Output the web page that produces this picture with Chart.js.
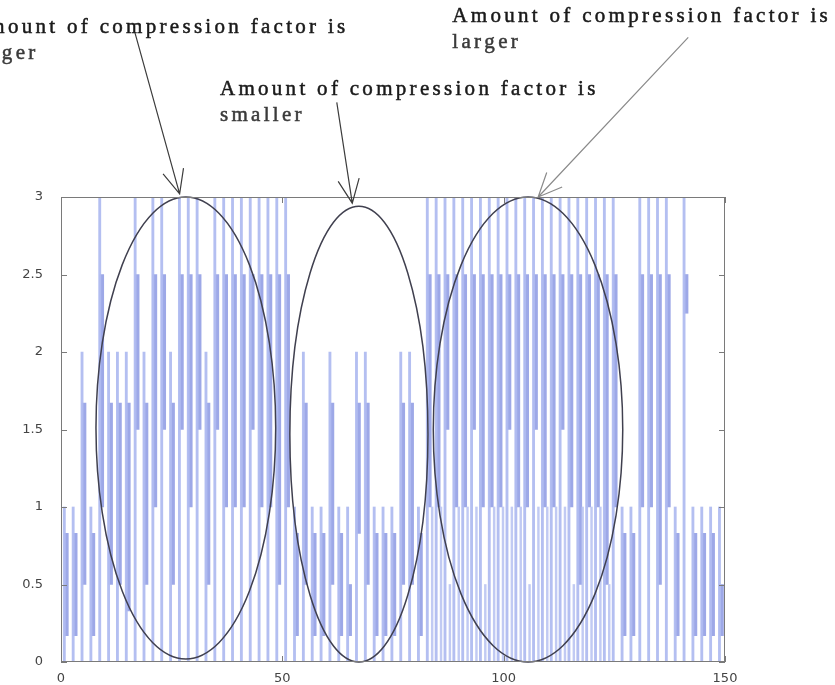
<!DOCTYPE html>
<html>
<head>
<meta charset="utf-8">
<script src="https://cdn.jsdelivr.net/npm/chart.js@4.4.1/dist/chart.umd.min.js"></script>
<style>
  html, body { margin: 0; padding: 0; background: #fff; }
  #wrap { width: 835px; height: 685px; }
</style>
</head>
<body>
<div id="wrap"><canvas id="signalChart" width="835" height="685"></canvas></div>
<script>
// top of each spike (one spike about every 2 samples)
const peakVals = [
  1, 1, 2, 1, 3, 2, 2, 2, 3, 2, 3, 3, 2, 3, 3, 3, 2, 3, 3,
  3, 3, 3, 3, 3, 3, 3, 1, 2, 1, 1, 2, 1, 1, 2, 2, 1, 1, 1,
  2, 2, 1, 3, 3, 3, 3, 3, 3, 3, 3, 3, 3, 3, 3, 3, 3, 3, 3,
  3, 3, 3, 3, 3, 3, 1, 1, 3, 3, 3, 3, 1, 3, 1, 1, 1, 1
];
// darker (overlapping) part of each spike
const bandLow = [
  0.17, 0.17, 0.5, 0.17, 1.0, 0.5, 0.5, 0.33, 1.5, 0.5, 1.0, 1.5, 0.5, 1.5, 1.0, 1.5, 0.5, 1.5, 1.0,
  1.0, 1.0, 1.5, 1.0, 1.0, 0.5, 1.0, 0.17, 0.5, 0.17, 0.17, 0.5, 0.17, 0.17, 0.83, 0.5, 0.17, 0.17, 0.17,
  0.5, 0.5, 0.17, 1.0, 1.0, 1.5, 1.0, 1.0, 1.5, 1.0, 1.0, 1.0, 1.5, 1.0, 1.0, 1.5, 1.0, 1.0, 1.5,
  1.0, 0.5, 1.0, 1.0, 0.5, 1.0, 0.17, 0.17, 1.0, 1.0, 0.5, 1.0, 0.17, 2.25, 0.17, 0.17, 0.17, 0.17
];
const bandHigh = [
  0.83, 0.83, 1.67, 0.83, 2.5, 1.67, 1.67, 1.67, 2.5, 1.67, 2.5, 2.5, 1.67, 2.5, 2.5, 2.5, 1.67, 2.5, 2.5,
  2.5, 2.5, 2.5, 2.5, 2.5, 2.5, 2.5, 0.83, 1.67, 0.83, 0.83, 1.67, 0.83, 0.5, 1.67, 1.67, 0.83, 0.83, 0.83,
  1.67, 1.67, 0.83, 2.5, 2.5, 2.5, 2.5, 2.5, 2.5, 2.5, 2.5, 2.5, 2.5, 2.5, 2.5, 2.5, 2.5, 2.5, 2.5,
  2.5, 2.5, 2.5, 2.5, 2.5, 2.5, 0.83, 0.83, 2.5, 2.5, 2.5, 2.5, 0.83, 2.5, 0.83, 0.83, 0.83, 0.5
];
// low in-between samples (only where the signal is busiest)
const minorVals = [
  0, 0, 0, 0, 0, 0, 0, 0, 0, 0, 0, 0, 0, 0, 0, 0, 0, 0, 0,
  0, 0, 0, 0, 0, 0, 0, 0, 0, 0, 0, 0, 0, 0, 0, 0, 0, 0, 0,
  0, 0, 0, 1, 1, 0.5, 1, 1, 1, 0.5, 1, 1, 1, 1, 0.5, 1, 1, 1, 1,
  0.5, 1, 1, 1, 0.5, 0, 0, 0, 0, 0, 0, 0, 0, 0, 0, 0, 0, 0
];
const xTicks = [0, 50, 100, 150];
const yTicks = [0, 0.5, 1, 1.5, 2, 2.5, 3];

// annotation shapes, in axis units
const ovals = [
  { cx: 28.2, cy: 1.51, rx: 20.3, ry: 1.49 },
  { cx: 67.3, cy: 1.47, rx: 15.6, ry: 1.47 },
  { cx: 105.5, cy: 1.5, rx: 21.4, ry: 1.5 }
];
const notes = [
  { lines: ['Amount of compression factor is', 'larger'], x: -20.6, y: 4.06 },
  { lines: ['Amount of compression factor is', 'smaller'], x: 35.9, y: 3.66 },
  { lines: ['Amount of compression factor is', 'larger'], x: 88.4, y: 4.13 }
];
const arrows = [
  { from: [16.7, 4.06], to: [26.8, 3.02], color: '#3c3c3c' },
  { from: [62.3, 3.61], to: [65.8, 2.96], color: '#3c3c3c' },
  { from: [141.7, 4.03], to: [107.8, 3.0], color: '#8a8a8a' }
];

const spikeX = peakVals.map((v, i) => 0.75 + 2 * i);
const strokeData = peakVals.map((p, i) => ({ x: spikeX[i], y: [0, p] }));
// the overlapping part sits just right of the thin stroke
const bandData = bandLow.map((lo, i) => ({ x: spikeX[i] + 0.45, y: [lo, bandHigh[i]] }));
const minorData = minorVals
  .map((m, i) => ({ x: spikeX[i] + 1.1, y: [0, m] }))
  .filter(d => d.y[1] > 0);

function spacedText(ctx, str, x0, y0, gap) {
  let cx = x0;
  for (const ch of str) {
    ctx.fillText(ch, cx, y0);
    ctx.strokeText(ch, cx, y0);
    cx += ctx.measureText(ch).width + gap;
  }
}

function drawArrow(ctx, x1, y1, x2, y2) {
  const ang = Math.atan2(y2 - y1, x2 - x1);
  const len = 26, spread = 0.42;
  ctx.beginPath();
  ctx.moveTo(x1, y1);
  ctx.lineTo(x2, y2);
  ctx.moveTo(x2 - len * Math.cos(ang - spread), y2 - len * Math.sin(ang - spread));
  ctx.lineTo(x2, y2);
  ctx.lineTo(x2 - len * Math.cos(ang + spread), y2 - len * Math.sin(ang + spread));
  ctx.stroke();
}

const annotate = {
  id: 'annotate',
  afterDatasetsDraw(chart) {
    const { ctx, chartArea: a, scales: { x, y } } = chart;
    ctx.save();
    // ovals
    ctx.strokeStyle = '#40404f';
    ctx.lineWidth = 1.5;
    ovals.forEach(o => {
      const cx = x.getPixelForValue(o.cx), cy = y.getPixelForValue(o.cy);
      const rx = x.getPixelForValue(o.cx + o.rx) - cx;
      const ry = cy - y.getPixelForValue(o.cy + o.ry);
      ctx.beginPath();
      ctx.ellipse(cx, cy, rx, ry, 0, 0, Math.PI * 2);
      ctx.stroke();
    });
    // axes box + inward ticks (matlab look)
    ctx.strokeStyle = '#7a7a7a';
    ctx.lineWidth = 1;
    ctx.strokeRect(a.left + 0.5, a.top + 0.5, a.right - a.left - 1, a.bottom - a.top - 1);
    ctx.beginPath();
    yTicks.forEach(v => {
      const py = Math.round(y.getPixelForValue(v)) + 0.5;
      ctx.moveTo(a.left, py); ctx.lineTo(a.left + 6, py);
      ctx.moveTo(a.right, py); ctx.lineTo(a.right - 6, py);
    });
    xTicks.forEach(v => {
      const px = Math.round(x.getPixelForValue(v)) + 0.5;
      ctx.moveTo(px, a.bottom); ctx.lineTo(px, a.bottom - 6);
      ctx.moveTo(px, a.top); ctx.lineTo(px, a.top + 6);
    });
    ctx.stroke();
    ctx.restore();
  },
  afterDraw(chart) {
    const { ctx, scales: { x, y } } = chart;
    ctx.save();
    ctx.font = '21px "Liberation Serif", "Times New Roman", serif';
    ctx.textBaseline = 'alphabetic';
    ctx.lineWidth = 0.5;
    notes.forEach(n => {
      const px = x.getPixelForValue(n.x), py = y.getPixelForValue(n.y);
      n.lines.forEach((line, i) => {
        ctx.fillStyle = ctx.strokeStyle = i === 0 ? '#1a1a1a' : '#3a3a3a';
        spacedText(ctx, line, px, py + i * 26, 3.3);
      });
    });
    ctx.lineWidth = 1.2;
    arrows.forEach(ar => {
      ctx.strokeStyle = ar.color;
      drawArrow(ctx,
        x.getPixelForValue(ar.from[0]), y.getPixelForValue(ar.from[1]),
        x.getPixelForValue(ar.to[0]), y.getPixelForValue(ar.to[1]));
    });
    ctx.restore();
  }
};

const tickFont = { family: 'DejaVu Sans', size: 13 };

const chart = new Chart(document.getElementById('signalChart'), {
  type: 'bar',
  data: {
    datasets: [
      {
        label: 'signal',
        data: strokeData,
        backgroundColor: 'rgba(176,188,240,0.95)',
        barThickness: 2.2,
        grouped: false,
        borderWidth: 0
      },
      {
        label: 'in-between',
        data: minorData,
        backgroundColor: 'rgba(186,196,242,0.9)',
        barThickness: 1.8,
        grouped: false,
        borderWidth: 0
      },
      {
        label: 'overlap',
        data: bandData,
        backgroundColor: 'rgba(146,158,228,0.9)',
        barThickness: 4,
        grouped: false,
        borderWidth: 0
      }
    ]
  },
  options: {
    responsive: false,
    animation: false,
    layout: { padding: { top: 197, right: 110, bottom: 0, left: 0 } },
    plugins: { legend: { display: false }, tooltip: { enabled: false } },
    scales: {
      x: {
        type: 'linear',
        min: 0,
        max: 150,
        offset: false,
        afterBuildTicks: s => { s.ticks = xTicks.map(v => ({ value: v })); },
        afterFit: s => { s.height = 23; },
        grid: { display: false },
        border: { display: false },
        ticks: { padding: 1, color: '#444', font: tickFont, callback: v => String(v) }
      },
      y: {
        min: 0,
        max: 3,
        afterBuildTicks: s => { s.ticks = yTicks.map(v => ({ value: v })); },
        afterFit: s => { s.width = 61; },
        grid: { display: false },
        border: { display: false },
        ticks: { padding: 10, color: '#444', font: tickFont, callback: v => String(v) }
      }
    }
  },
  plugins: [annotate]
});
</script>
</body>
</html>
